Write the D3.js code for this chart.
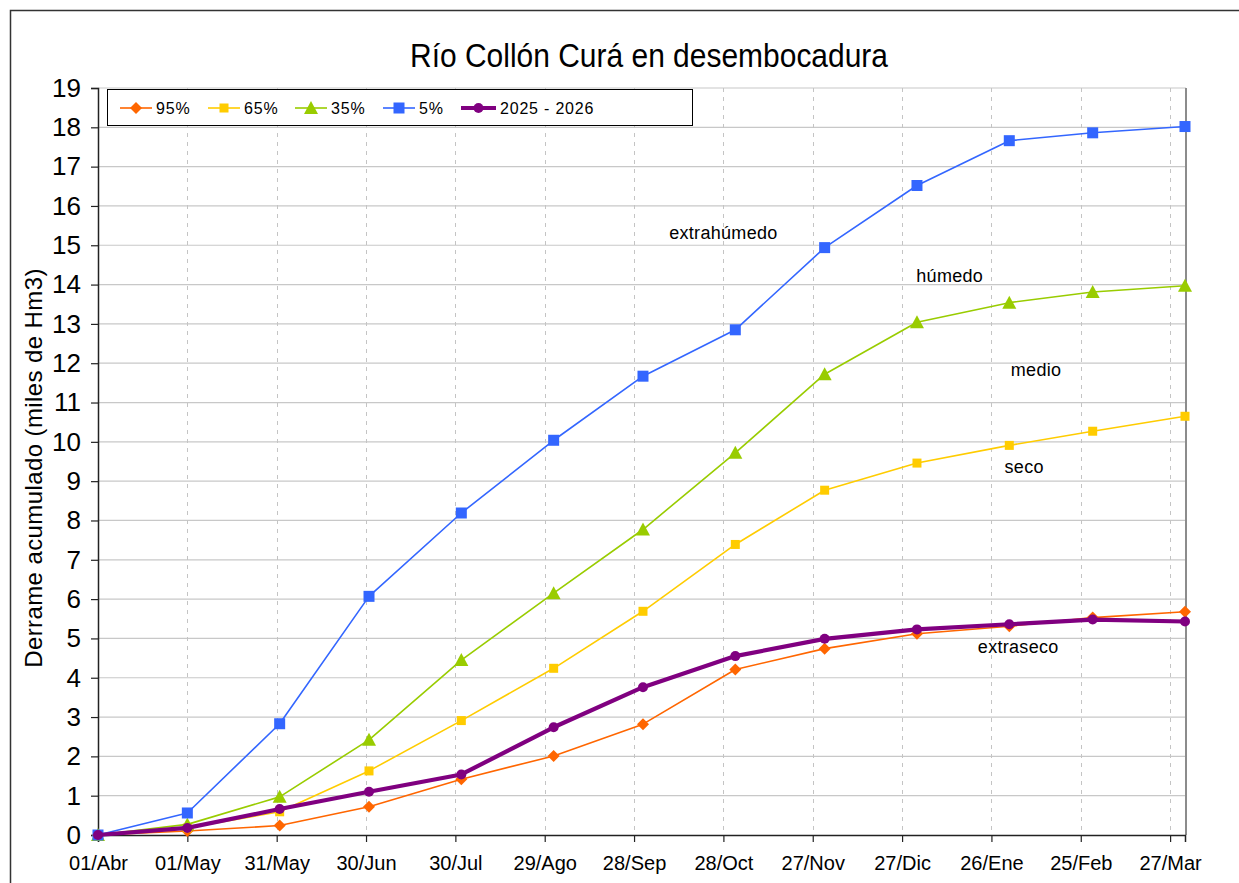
<!DOCTYPE html>
<html>
<head>
<meta charset="utf-8">
<script src="https://cdn.jsdelivr.net/npm/d3@7"></script>
<style>
  body { margin: 0; background: #fff; }
  svg text { font-family: "Liberation Sans", Arial, sans-serif; fill: #000; }
</style>
</head>
<body>
<svg id="chart" width="1239" height="883"></svg>
<script>
// Hydrological year, one value at the start of each month (miles de Hm3)
const dates = ["2025-04-01","2025-05-01","2025-06-01","2025-07-01","2025-08-01","2025-09-01",
               "2025-10-01","2025-11-01","2025-12-01","2026-01-01","2026-02-01","2026-03-01","2026-04-01"];

const p95 = [0, 0.10, 0.24, 0.72, 1.42, 2.01, 2.82, 4.21, 4.74, 5.12, 5.31, 5.53, 5.68];
const p65 = [0, 0.18, 0.59, 1.63, 2.91, 4.24, 5.69, 7.39, 8.77, 9.46, 9.91, 10.27, 10.65];
const p35 = [0, 0.27, 0.97, 2.42, 4.45, 6.15, 7.77, 9.72, 11.72, 13.04, 13.54, 13.81, 13.97];
const p5  = [0, 0.56, 2.83, 6.07, 8.19, 10.04, 11.67, 12.85, 14.94, 16.52, 17.66, 17.86, 18.02];
const y2025 = [0, 0.18, 0.66, 1.10, 1.54, 2.74, 3.76, 4.55, 4.99, 5.23, 5.36, 5.48, 5.43];

// Axis ticks every 30 days
const tickDates = ["2025-04-01","2025-05-01","2025-05-31","2025-06-30","2025-07-30","2025-08-29",
                   "2025-09-28","2025-10-28","2025-11-27","2025-12-27","2026-01-26","2026-02-25","2026-03-27"];
const tickLabels = ["01/Abr","01/May","31/May","30/Jun","30/Jul","29/Ago","28/Sep",
                    "28/Oct","27/Nov","27/Dic","26/Ene","25/Feb","27/Mar"];
const yTicks = d3.range(0, 20);

// Scenario labels
const noteText  = ["extrahúmedo", "húmedo", "medio", "seco", "extraseco"];
const noteDate  = ["2025-10-28", "2026-01-12", "2026-02-10", "2026-02-06", "2026-02-04"];
const noteValue = [15.3, 14.23, 11.82, 9.35, 4.78];

const parse = d3.utcParse("%Y-%m-%d");
const series = [
  { name: "95%", values: p95, color: "#FF6600", width: 1.6, marker: "diamond" },
  { name: "65%", values: p65, color: "#FFCC00", width: 1.6, marker: "square-s" },
  { name: "35%", values: p35, color: "#99CC00", width: 1.6, marker: "triangle" },
  { name: "5%",  values: p5,  color: "#3366FF", width: 1.6, marker: "square" },
  { name: "2025 - 2026", values: y2025, color: "#800080", width: 4.2, marker: "circle" }
];

const svg = d3.select("#chart");
const plotL = 98, plotR = 1186, plotT = 88, plotB = 835;

const x = d3.scaleUtc().domain([parse("2025-04-01"), parse("2026-04-01")]).range([plotL, plotR - 1]);
const y = d3.scaleLinear().domain([0, 19]).range([plotB, plotT]);

// Outer frame
svg.append("rect").attr("x", 10.5).attr("y", 10.5).attr("width", 1300).attr("height", 1000)
  .attr("fill", "#fff").attr("stroke", "#333").attr("stroke-width", 1.5);

// Title (condensed)
svg.append("text").attr("x", 649).attr("y", 67).attr("text-anchor", "middle")
  .attr("textLength", 478).attr("lengthAdjust", "spacingAndGlyphs")
  .style("font-size", "34px").text("Río Collón Curá en desembocadura");

// Horizontal grid
svg.append("g").selectAll("line").data(yTicks.filter(d => d > 0)).join("line")
  .attr("x1", plotL).attr("x2", plotR).attr("y1", d => y(d)).attr("y2", d => y(d))
  .attr("stroke", "#c8c8c8").attr("stroke-width", 1.2);

// Vertical dashed grid
svg.append("g").selectAll("line").data(tickDates.slice(1)).join("line")
  .attr("x1", d => Math.round(x(parse(d))) + 0.5).attr("x2", d => Math.round(x(parse(d))) + 0.5)
  .attr("y1", plotT).attr("y2", plotB)
  .attr("stroke", "#c4c4c4").attr("stroke-width", 1).attr("stroke-dasharray", "4,5");

// Right border of plot area
svg.append("line").attr("x1", plotR).attr("x2", plotR).attr("y1", plotT).attr("y2", plotB)
  .attr("stroke", "#8c8c8c").attr("stroke-width", 2);

// Y axis
const yAxis = d3.axisLeft(y).tickValues(yTicks).tickSize(7).tickPadding(10).tickFormat(d3.format("d"));
const gy = svg.append("g").attr("transform", `translate(${plotL},0)`).call(yAxis);
gy.select(".domain").attr("stroke", "#222").attr("stroke-width", 1.5);
gy.selectAll(".tick line").attr("stroke", "#222").attr("stroke-width", 1.2);
gy.selectAll(".tick text").style("font-size", "26px").style("font-family", "'Liberation Sans', sans-serif");

// X axis
const xAxis = d3.axisBottom(x).tickValues(tickDates.map(parse)).tickSize(7).tickPadding(14)
  .tickFormat((d, i) => tickLabels[i]);
const gx = svg.append("g").attr("transform", `translate(0,${plotB})`).call(xAxis);
gx.select(".domain").attr("stroke", "#222").attr("stroke-width", 1.5);
gx.selectAll(".tick line").attr("stroke", "#222").attr("stroke-width", 1.2);
gx.selectAll(".tick text").style("font-size", "20px").style("font-family", "'Liberation Sans', sans-serif");

// Y axis title
svg.append("text").attr("transform", "translate(42,468) rotate(-90)").attr("text-anchor", "middle")
  .style("font-size", "24px").style("letter-spacing", "0.4px").text("Derrame acumulado (miles de Hm3)");

// Markers
function drawMarker(sel, type, color) {
  if (type === "diamond") {
    sel.append("path").attr("d", "M0,-6L6,0L0,6L-6,0Z").attr("fill", color);
  } else if (type === "square") {
    sel.append("rect").attr("x", -5.5).attr("y", -5.5).attr("width", 11).attr("height", 11).attr("fill", color);
  } else if (type === "square-s") {
    sel.append("rect").attr("x", -4.5).attr("y", -4.5).attr("width", 9).attr("height", 9).attr("fill", color);
  } else if (type === "triangle") {
    sel.append("path").attr("d", "M0,-7L7,6L-7,6Z").attr("fill", color);
  } else if (type === "circle") {
    sel.append("circle").attr("r", 5).attr("fill", color);
  }
}

const line = d3.line().x(d => x(d.date)).y(d => y(d.value));
series.forEach(s => {
  const pts = s.values.map((v, i) => ({ date: parse(dates[i]), value: v }));
  const g = svg.append("g");
  g.append("path").datum(pts).attr("d", line).attr("fill", "none")
    .attr("stroke", s.color).attr("stroke-width", s.width).attr("stroke-linejoin", "round");
  g.selectAll("g.m").data(pts).join("g").attr("class", "m")
    .attr("transform", d => `translate(${x(d.date)},${y(d.value)})`)
    .each(function () { drawMarker(d3.select(this), s.marker, s.color); });
});

// Scenario labels
svg.append("g").selectAll("text").data(noteText).join("text")
  .attr("x", (d, i) => x(parse(noteDate[i]))).attr("y", (d, i) => y(noteValue[i]) + 6)
  .attr("text-anchor", "middle").style("font-size", "18px").style("letter-spacing", "0.3px").text(d => d);

// Legend
const lg = svg.append("g");
lg.append("rect").attr("x", 107.5).attr("y", 89.5).attr("width", 585).attr("height", 36)
  .attr("fill", "#fff").attr("stroke", "#000").attr("stroke-width", 1);
const legendX = [120, 208, 295, 383, 461];
series.forEach((s, i) => {
  const gx0 = legendX[i];
  const sampleW = i === 4 ? 35 : 32;
  const item = lg.append("g").attr("transform", `translate(${gx0},108)`);
  item.append("line").attr("x1", 0).attr("x2", sampleW).attr("y1", 0).attr("y2", 0)
    .attr("stroke", s.color).attr("stroke-width", s.width);
  const m = item.append("g").attr("transform", `translate(${sampleW / 2},0)`);
  drawMarker(m, s.marker, s.color);
  item.append("text").attr("x", sampleW + 4).attr("y", 6)
    .style("font-size", "16px").style("letter-spacing", "0.8px").text(s.name);
});
</script>
</body>
</html>
